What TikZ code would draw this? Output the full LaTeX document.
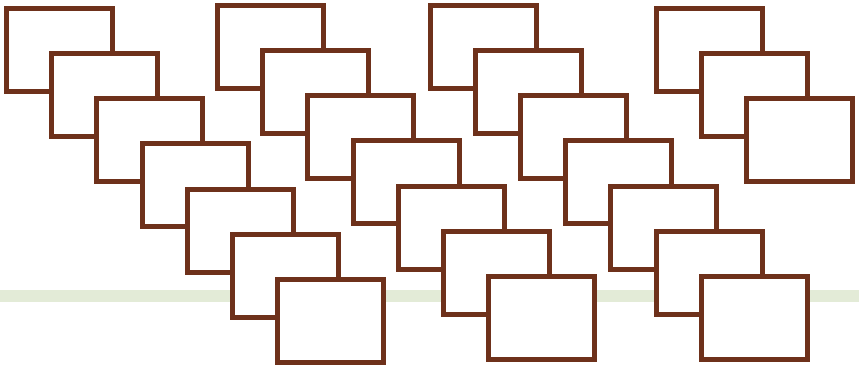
\documentclass[tikz,border=0pt]{standalone}
\usepackage{xcolor}
\definecolor{frame}{HTML}{6E311B}
\definecolor{band}{HTML}{E3EBD7}
\begin{document}
\begin{tikzpicture}[
    x=1pt,y=-1pt,
    card/.style={draw=frame,line width=5pt,fill=white,minimum width=106pt,minimum height=83pt,inner sep=0pt,outer sep=0pt,anchor=north west}
]
\useasboundingbox (0,0) rectangle (859,365);
\fill[band] (0,290) rectangle (859,302);

% four cascades of cards
\foreach \name/\x/\y/\n in {a/6.5/8/7, b/217.5/5/7, c/430/5/7, d/656/8/3} {
    \foreach \i in {1,...,\n}
        \node[card] (\name\i) at ({\x+(\i-1)*45.2},{\y+(\i-1)*45.3}) {};
}
\end{tikzpicture}
\end{document}
